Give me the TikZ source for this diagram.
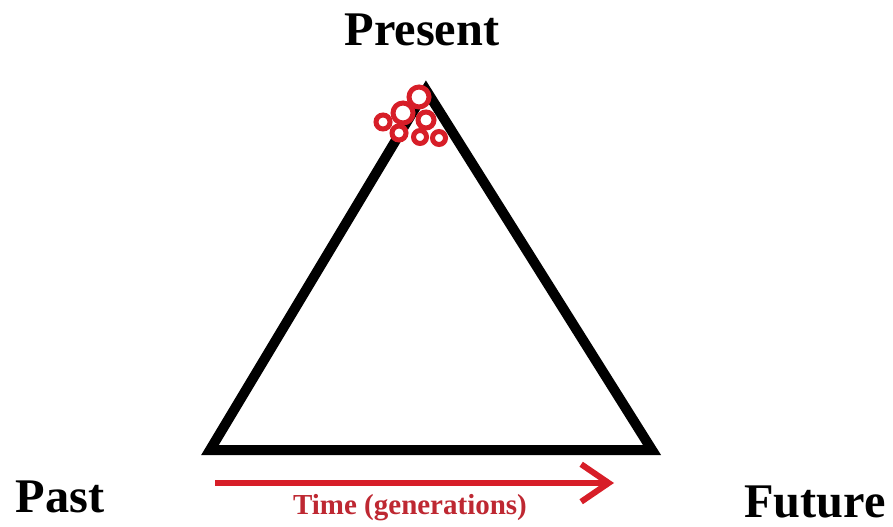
\documentclass[tikz,border=0pt]{standalone}
\usepackage{fontspec}
\setmainfont{Liberation Serif}
\usetikzlibrary{arrows.meta}
\definecolor{dotred}{RGB}{215,30,40}
\definecolor{timered}{RGB}{190,40,50}
\tikzset{
  bigword/.style={font=\bfseries\fontsize{27.5}{32}\selectfont},
  pop/.style={draw=dotred,fill=white,line width=0.1cm},
}
\begin{document}
\begin{tikzpicture}[x=0.02cm,y=-0.02cm]
\useasboundingbox (0,0) rectangle (893,527);
% triangle
\coordinate (top) at (426,90);
\coordinate (left) at (210,450);
\coordinate (right) at (652,450);
\draw[line width=0.2cm,line join=miter] (left) -- (top) -- (right) -- cycle;

% population at the top
\draw[pop] (439,138) circle (6.5);
\draw[pop] (420,137) circle (6.5);
\draw[pop] (399,133) circle (7);
\draw[pop] (383,122) circle (7);
\draw[pop] (426,120) circle (8);
\draw[pop] (403,113) circle (10);
\draw[pop] (419,97) circle (10);

\node[bigword] (present) at (422,30) {Present};
\node[bigword] (past) at (60,497) {Past};
\node[bigword] (future) at (815,502) {Future};

% time arrow
\coordinate (tstart) at (215,483);
\coordinate (tend) at (614,483);
\draw[dotred,line width=0.12cm,-{Straight Barb[length=0.55cm,width=0.75cm]}] (tstart) -- (tend);
\node[timered,font=\bfseries\fontsize{16.5}{19}\selectfont] (time) at (410,508) {Time (generations)};
\end{tikzpicture}
\end{document}
